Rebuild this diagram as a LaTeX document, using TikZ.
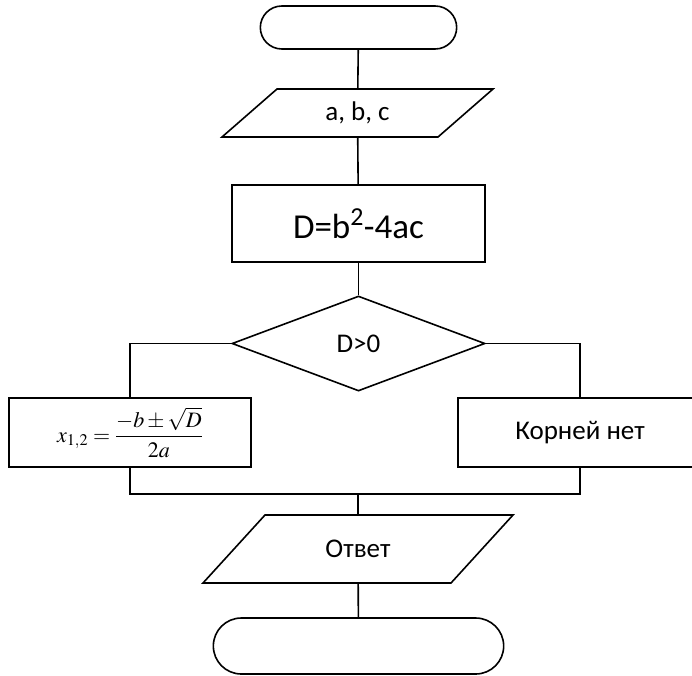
\documentclass[tikz,border=0pt]{standalone}
\usepackage{mathptmx}
\usepackage[no-math]{fontspec}
\setmainfont{Carlito}
\usetikzlibrary{shapes.geometric,shapes.misc,positioning}
\tikzset
{
    terminal/.style = {rounded rectangle, draw=black, minimum width=203pt, minimum height=43pt},
    io/.style       = {rectangle, outer sep=0pt, align=center, font=\fontsize{27}{32}\selectfont},
    process/.style  = {rectangle, draw=black, align=center, minimum height=69pt, font=\fontsize{27}{32}\selectfont},
    decision/.style = {diamond, draw=black, inner sep=0pt, minimum width=253pt, minimum height=95pt, font=\fontsize{27}{32}\selectfont}
}
% parallelogram round an io node: #1 node, #2 slant
\newcommand\slantbox[2]{\draw ([xshift=#2]#1.north west) -- (#1.north east) -- ([xshift=-#2]#1.south east) -- (#1.south west) -- cycle;}

\begin{document}
\begin{tikzpicture}[x=1pt, y=-1pt, line width=1.6pt]
\clip (0,0) rectangle (692,675);
\node(start) [terminal] at (358.5, 27.5) {};
\node(abc) [io, minimum width=271pt, minimum height=48pt] at (357.5, 113) {a, b, c};
\slantbox{abc}{55pt}
\node(disc) [process, minimum width=253pt, minimum height=77pt, font=\fontsize{35}{40}\selectfont] at (358.5, 223.5) {D=b\textsuperscript{2}-4ac};
\node(test) [decision] at (358.5, 343.5) {D>0};
\node(roots) [process, minimum width=242pt, font=\fontsize{22}{26}\selectfont] at (130, 432.5) {$x_{1,2}=\displaystyle\frac{-b\pm\sqrt{D}}{2a}$};
\node(noroots) [process, minimum width=244pt] at (580, 432.5) {Корней нет};
\coordinate(join) at (358, 494);
\node(answer) [io, minimum width=310pt, minimum height=68pt] at (358, 549) {Ответ};
\slantbox{answer}{62pt}
\node(stop) [terminal, minimum width=297pt, minimum height=56pt] at (358.5, 646) {};
% links
\draw (start) -- (abc);
\draw (abc) -- (disc);
\draw (disc) -- (test);
\draw (test.west) -| (roots.north);
\draw (test.east) -| (noroots.north);
\draw (roots.south) -- (roots.south |- join) -- (noroots.south |- join) -- (noroots.south);
\draw (join) -- (answer);
\draw (answer) -- (stop);
\end{tikzpicture}
\end{document}
